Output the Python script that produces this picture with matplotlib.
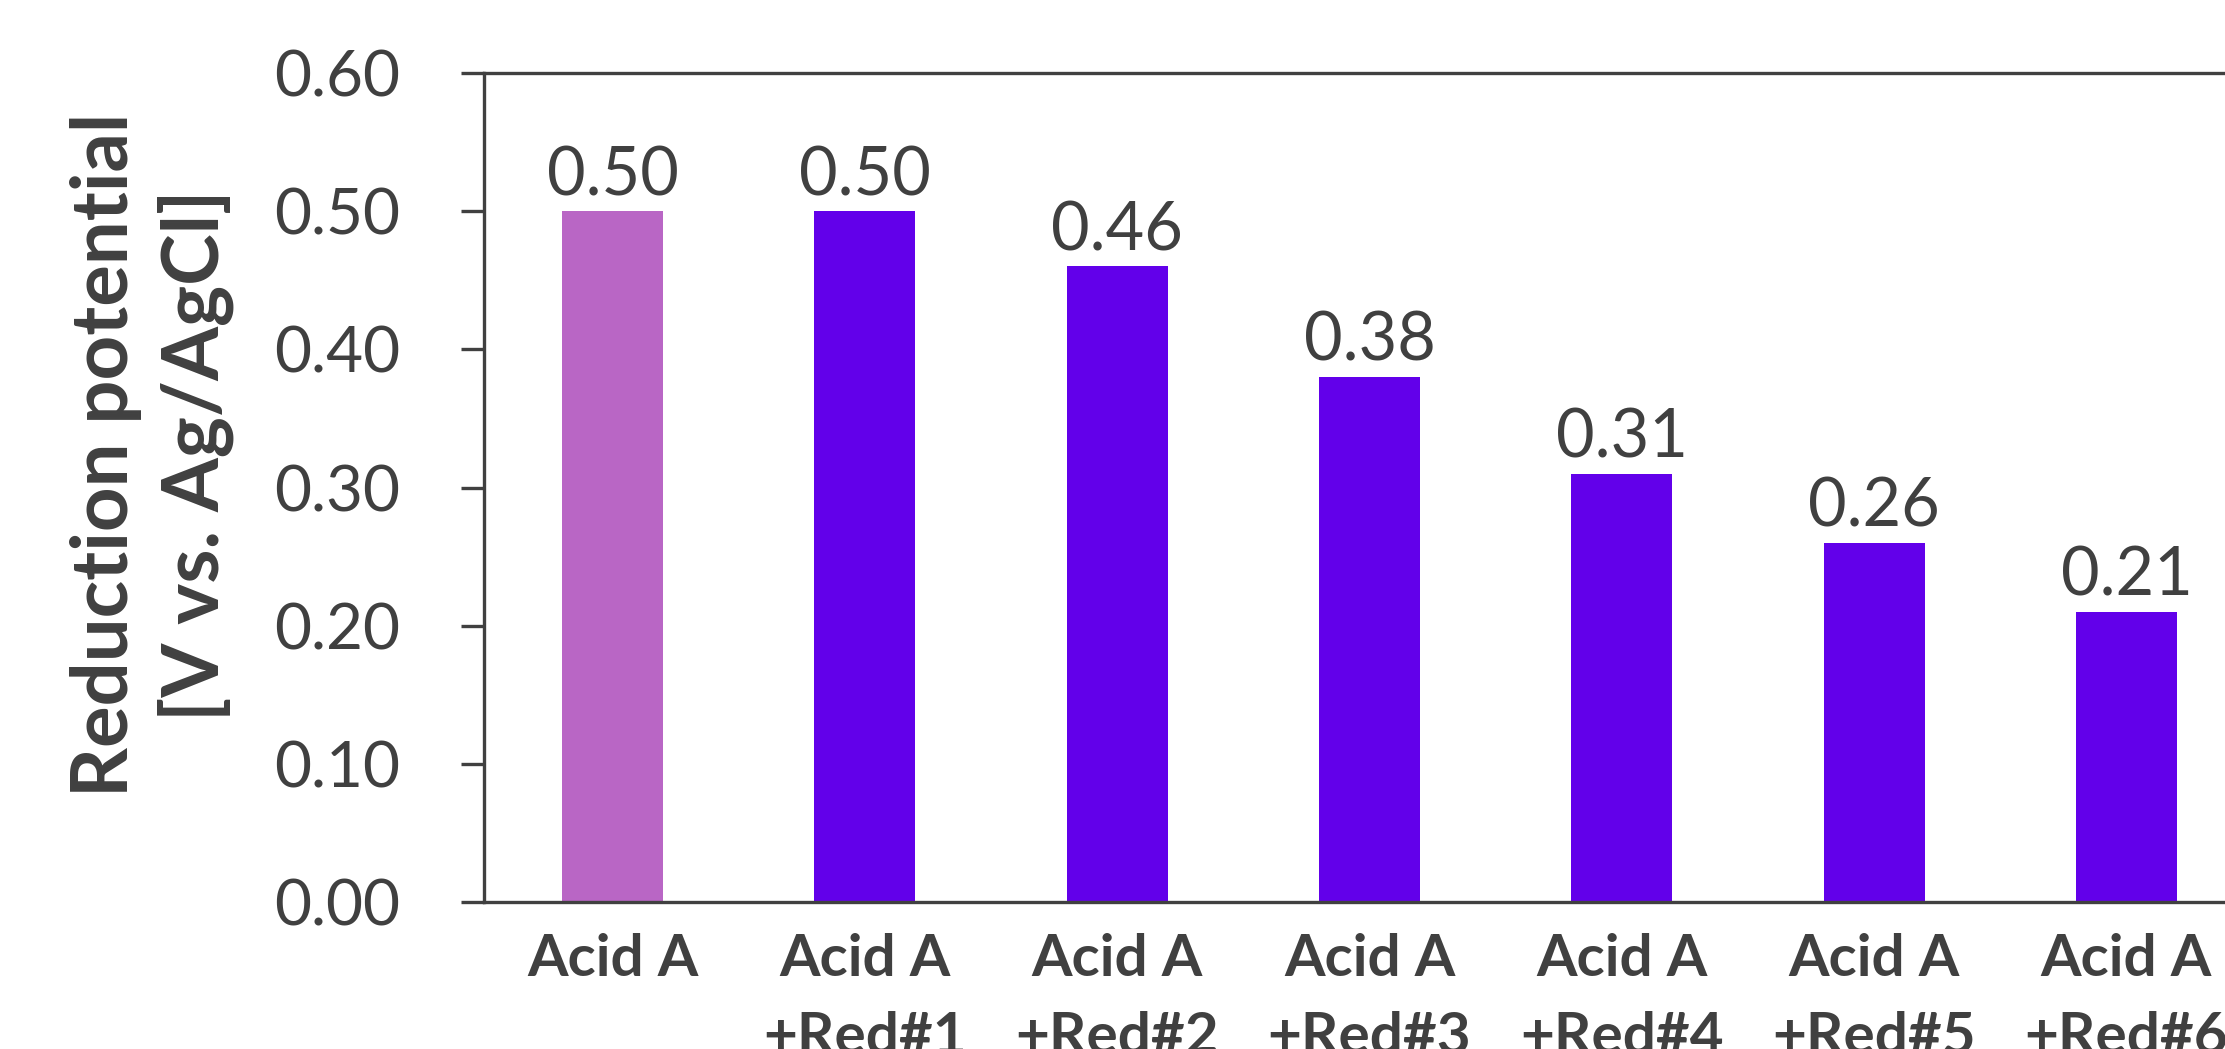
import matplotlib.pyplot as plt

categories = ["Acid A", "Acid A\n+Red#1", "Acid A\n+Red#2", "Acid A\n+Red#3",
              "Acid A\n+Red#4", "Acid A\n+Red#5", "Acid A\n+Red#6"]
values = [0.50, 0.50, 0.46, 0.38, 0.31, 0.26, 0.21]
colors = ["#B966C5"] + ["#6200EA"] * 6
yticks = [0.00, 0.10, 0.20, 0.30, 0.40, 0.50, 0.60]

plt.rcParams['font.family'] = ['Lato', 'DejaVu Sans']
txt = "#404040"

fig = plt.figure(figsize=(22.25, 10.49), dpi=100)
ax = fig.add_axes([0.2175, 0.1401, 0.7949, 0.7903])

x = list(range(len(categories)))
ax.bar(x, values, width=0.4, color=colors)
for xi, v in zip(x, values):
    ax.annotate(f"{v:.2f}", (xi, v), xytext=(0, 3), textcoords="offset points",
                ha="center", va="bottom", fontsize=48, color=txt)

ax.set_xlim(-0.51, 6.5)
ax.set_ylim(0, 0.6)
ax.set_yticks(yticks)
ax.set_yticklabels([f"{t:.2f}" for t in yticks], fontsize=46, color=txt)
ax.set_xticks(x)
ax.set_xticklabels(categories, fontsize=42, fontweight="bold", color=txt,
                   linespacing=1.6)
ax.tick_params(axis="y", length=16.5, width=2.4, color=txt, pad=44)
ax.tick_params(axis="x", length=0, pad=22)

for s in ["left", "bottom", "top"]:
    ax.spines[s].set_linewidth(2.4)
    ax.spines[s].set_color(txt)
ax.spines["right"].set_visible(False)

fig.text(152 / 2225, 1 - 455 / 1049, "Reduction potential\n[V vs. Ag/AgCl]",
         rotation=90, ha="center", va="center", fontsize=56, fontweight="bold",
         color=txt, linespacing=1.25)

fig.savefig("out.png", dpi=100)
